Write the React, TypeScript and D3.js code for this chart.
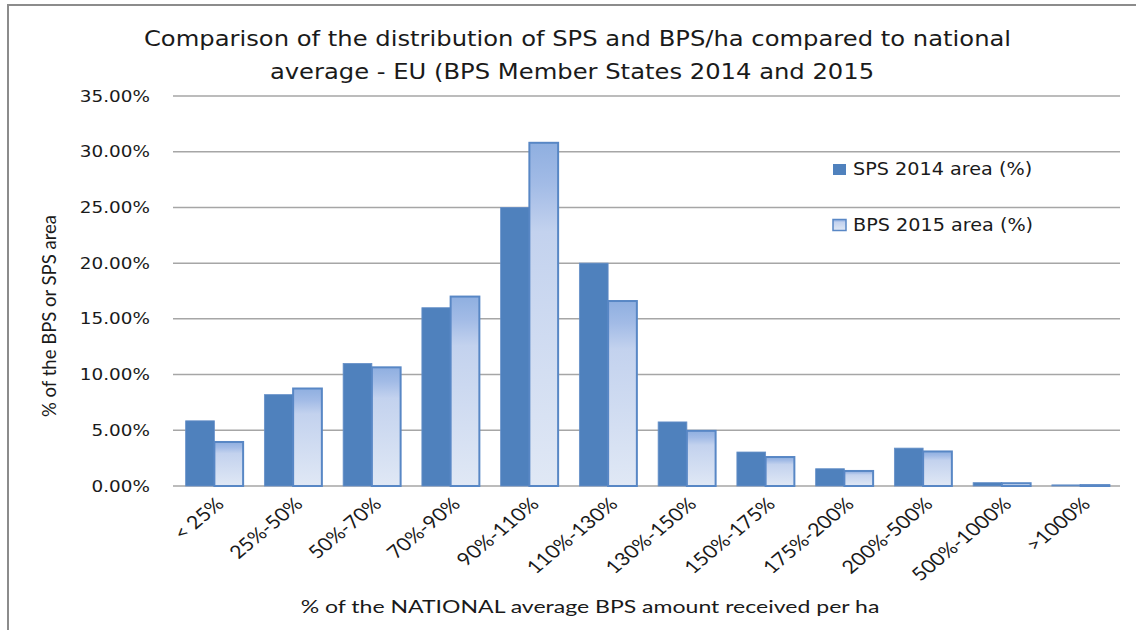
import React from "react"
import * as d3 from "d3"

const categories = [
  "< 25%",
  "25%-50%",
  "50%-70%",
  "70%-90%",
  "90%-110%",
  "110%-130%",
  "130%-150%",
  "150%-175%",
  "175%-200%",
  "200%-500%",
  "500%-1000%",
  ">1000%",
]
const sps2014 = [5.85, 8.2, 11.0, 16.0, 25.0, 20.0, 5.75, 3.05, 1.55, 3.4, 0.3, 0.1]
const bps2015 = [3.95, 8.75, 10.65, 17.0, 30.8, 16.6, 4.95, 2.6, 1.35, 3.1, 0.25, 0.08]
const seriesNames = ["SPS 2014 area (%)", "BPS 2015 area (%)"]
const titleLines = [
  "Comparison of the distribution of SPS and BPS/ha compared to national",
  "average - EU (BPS Member States 2014 and 2015",
]
const yTitle = "% of the BPS or SPS area"
const xTitle = "% of the NATIONAL average BPS amount received per ha"

const W = 1136
const H = 630
const plot = { left: 175, right: 1120, top: 96, bottom: 486 }
const SX = 1.15 // the source is a bit stretched sideways

const App = () => {
  const y = d3.scaleLinear().domain([0, 35]).range([plot.bottom, plot.top])
  const x0 = d3
    .scaleBand()
    .domain(categories)
    .range([plot.left, plot.right])
    .paddingInner(0.27)
    .paddingOuter(0.135)
  const x1 = d3.scaleBand().domain(["sps", "bps"]).range([0, x0.bandwidth()])
  const ticks = y.ticks(7)
  const fmt = (d) => d3.format(".2f")(d) + "%"

  return (
    <div style={{ position: "fixed", left: 0, top: 0, width: W, height: H, background: "#fff" }}>
      <svg width={W} height={H} style={{ display: "block" }}>
        <defs>
          <linearGradient id="bpsFill" x1="0" y1="0" x2="0" y2="1">
            <stop offset="0%" stopColor="#8fafe0" />
            <stop offset="12%" stopColor="#a2bbe6" />
            <stop offset="26%" stopColor="#c3d2ee" />
            <stop offset="100%" stopColor="#e0e8f5" />
          </linearGradient>
        </defs>
        <rect x={8} y={5} width={W + 10} height={H + 10} fill="#fff" stroke="#8c8c8c" strokeWidth={2} />

        {/* title */}
        {titleLines.map((t, i) => (
          <text
            key={t}
            transform={`translate(${577.5 - i * 5.5},${45.5 + i * 33.5}) scale(1.155,1)`}
            textAnchor="middle"
            fontFamily="DejaVu Sans"
            fontSize={21}
            fill="#1a1a1a"
          >
            {t}
          </text>
        ))}

        {/* gridlines */}
        {ticks.map((t) => (
          <line
            key={t}
            x1={plot.left - 2}
            x2={plot.right}
            y1={y(t)}
            y2={y(t)}
            stroke="#a6a6a6"
            strokeWidth={1.5}
          />
        ))}

        {/* y tick labels */}
        {ticks.map((t) => (
          <text
            key={"l" + t}
            transform={`translate(150,${y(t) + 5.5}) scale(${SX},1)`}
            textAnchor="end"
            fontFamily="DejaVu Sans"
            fontSize={16}
            fill="#1a1a1a"
          >
            {fmt(t)}
          </text>
        ))}

        {/* bars */}
        {categories.map((c, i) => (
          <g key={c} transform={`translate(${x0(c)},0)`}>
            <rect
              x={x1("sps")}
              y={y(sps2014[i])}
              width={x1.bandwidth()}
              height={y(0) - y(sps2014[i])}
              fill="#4f81bd"
              stroke="#6690c8"
              strokeWidth={0.8}
            />
            <rect
              x={x1("bps")}
              y={y(bps2015[i])}
              width={x1.bandwidth()}
              height={y(0) - y(bps2015[i])}
              fill="url(#bpsFill)"
              stroke="#5887c5"
              strokeWidth={2}
            />
          </g>
        ))}

        {/* x tick labels */}
        {categories.map((c) => (
          <text
            key={"x" + c}
            transform={`translate(${x0(c) + x0.bandwidth() / 2 + 7},${plot.bottom + 16}) scale(1.2,1) rotate(-45)`}
            textAnchor="end"
            dominantBaseline="middle"
            fontFamily="Lato"
            fontSize={18}
            fill="#1a1a1a"
          >
            {c}
          </text>
        ))}

        {/* axis titles */}
        <text
          transform={`translate(56,316) rotate(-90)`}
          textAnchor="middle"
          fontFamily="Lato"
          fontSize={18.5}
          fill="#1a1a1a"
        >
          {yTitle}
        </text>
        <text
          transform={`translate(590,613) scale(1.28,1)`}
          textAnchor="middle"
          fontFamily="Lato"
          fontSize={18}
          fill="#1a1a1a"
        >
          {xTitle}
        </text>

        {/* legend */}
        {seriesNames.map((s, i) => (
          <g key={s} transform={`translate(833,${164 + i * 55.5})`}>
            <rect
              x={0}
              y={0}
              width={13}
              height={11}
              fill={i === 0 ? "#4f81bd" : "url(#bpsFill)"}
              stroke={i === 0 ? "none" : "#5887c5"}
              strokeWidth={1.5}
            />
            <text
              transform={`translate(20,11) scale(1.13,1)`}
              fontFamily="DejaVu Sans"
              fontSize={17}
              fill="#1a1a1a"
            >
              {s}
            </text>
          </g>
        ))}
      </svg>
    </div>
  )
}

export default App
